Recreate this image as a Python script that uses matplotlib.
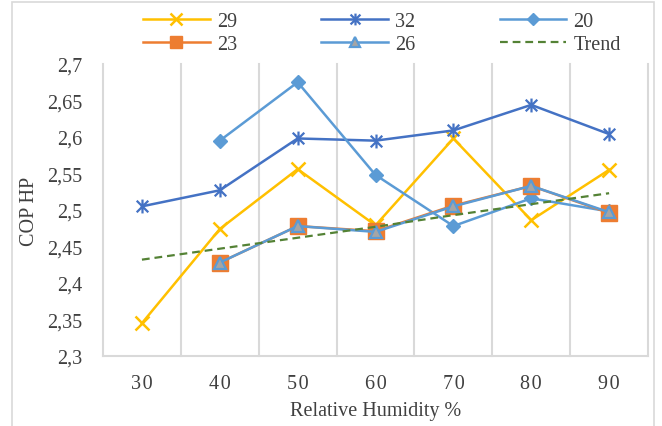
import numpy as np
import matplotlib
matplotlib.use("Agg")
import matplotlib.pyplot as plt
from matplotlib.path import Path
from matplotlib.patches import Rectangle

# relative humidity categories (%), drawn letter-spaced
humidity = ["30", "40", "50", "60", "70", "80", "90"]

# COP of the heat pump for each temperature series (None = no measurement)
cop_29 = [2.345, 2.474, 2.556, 2.479, 2.598, 2.486, 2.555]
cop_32 = [2.505, 2.527, 2.598, 2.595, 2.609, 2.644, 2.604]
cop_20 = [None, 2.595, 2.675, 2.548, 2.478, 2.516, 2.498]
cop_23 = [None, 2.428, 2.478, 2.471, 2.506, 2.533, 2.496]
cop_26 = [None, 2.428, 2.478, 2.470, 2.505, 2.533, 2.497]
trend = [2.432, 2.447, 2.462, 2.477, 2.493, 2.508, 2.523]

y_ticks = [2.3, 2.35, 2.4, 2.45, 2.5, 2.55, 2.6, 2.65, 2.7]
y_ticklabels = ["2,3", "2,35", "2,4", "2,45", "2,5", "2,55", "2,6", "2,65", "2,7"]

plt.rcParams["font.family"] = ["Liberation Serif", "DejaVu Serif"]
txt = "#404040"
grid_c = "#D9D9D9"

# excel-like star marker: an x with a vertical bar through it
star = Path([(-0.5, -0.5), (0.5, 0.5), (-0.5, 0.5), (0.5, -0.5), (0, -0.6), (0, 0.6)],
            [Path.MOVETO, Path.LINETO, Path.MOVETO, Path.LINETO, Path.MOVETO, Path.LINETO])


def vals(series):
    return np.array([np.nan if v is None else v for v in series], dtype=float)


x = np.arange(len(humidity))

fig = plt.figure(figsize=(6.62, 4.27), dpi=100)
ax = fig.add_axes([0.1556, 0.1639, 0.9789 - 0.1556, 0.8478 - 0.1639])

# outer chart border
fig.patches.append(Rectangle((12 / 662, -0.05), (654 - 12) / 662, 1 - 3 / 427 + 0.05,
                             transform=fig.transFigure, fill=False,
                             edgecolor=grid_c, lw=1.2))

lw = 1.8
h29, = ax.plot(x, vals(cop_29), color="#FFC000", lw=lw, marker="x", ms=9.5, mew=1.8,
               label="29")
h32, = ax.plot(x, vals(cop_32), color="#4472C4", lw=lw, marker=star, ms=10, mew=1.6,
               mfc="none", label="32")
h20, = ax.plot(x, vals(cop_20), color="#5B9BD5", lw=lw, marker="D", ms=7.5,
               label="20")
h23, = ax.plot(x, vals(cop_23), color="#ED7D31", lw=lw, marker="s", ms=11,
               label="23")
h26, = ax.plot(x, vals(cop_26), color="#5B9BD5", lw=lw, marker="^", ms=9,
               mfc="#A5A5A5", mec="#5B9BD5", mew=1.6, label="26")
ht, = ax.plot(x, trend, color="#548235", lw=1.6, ls=(0, (3.5, 2.2)), label="Trend")

ax.set_xlim(-0.5, len(humidity) - 0.5)
ax.set_ylim(2.3, 2.7)

# vertical category separators
for b in np.arange(len(humidity) + 1) - 0.5:
    ax.axvline(b, color=grid_c, lw=1.5, zorder=0, clip_on=False)

for s in ["top", "right", "left"]:
    ax.spines[s].set_visible(False)
ax.spines["bottom"].set_color(grid_c)
ax.spines["bottom"].set_linewidth(1.5)

ax.set_xticks(x)
ax.set_xticklabels(["\u200a".join(h) for h in humidity])
ax.set_yticks(y_ticks)
ax.set_yticklabels(y_ticklabels)
ax.tick_params(axis="both", length=0, labelsize=14.5, labelcolor=txt)
ax.tick_params(axis="y", pad=15)
ax.tick_params(axis="x", pad=13)

ax.set_xlabel("Relative Humidity %", fontsize=14.5, color=txt, va="center")
ax.set_ylabel("COP HP", fontsize=14.5, color=txt, va="center")
ax.xaxis.set_label_coords(0.5, -0.185)
ax.yaxis.set_label_coords(-0.134, 0.5)

leg = fig.legend([h29, h23, h32, h26, h20, ht], ["29", "23", "32", "26", "20", "Trend"],
                 ncol=3, loc="center", bbox_to_anchor=(0.577, 0.921), frameon=False,
                 fontsize=14.5, handlelength=3.3, handletextpad=0.35, columnspacing=4.2,
                 labelspacing=0.2, borderpad=0, labelcolor=txt)
# slightly smaller markers inside the legend
for lh in leg.legend_handles:
    lh.set_markersize(lh.get_markersize() * 0.85)

fig.savefig("out.png", dpi=100)
